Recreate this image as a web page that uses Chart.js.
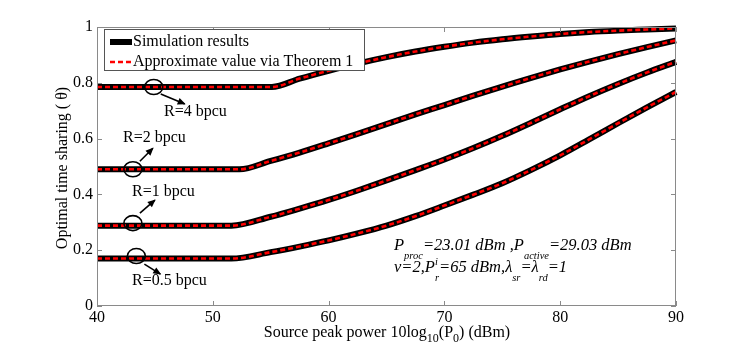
<!DOCTYPE html>
<html>
<head>
<meta charset="utf-8">
<script src="https://cdn.jsdelivr.net/npm/chart.js@4.4.1/dist/chart.umd.min.js"></script>
<style>
  html, body { margin: 0; padding: 0; background: #fff; }
  #wrap { width: 747px; height: 347px; position: relative; }
</style>
</head>
<body>
<div id="wrap"><canvas id="c" width="747" height="347"></canvas></div>
<script>
// ---- data ----
const xTicks = [40, 50, 60, 70, 80, 90];
const yTicks = [0, 0.2, 0.4, 0.6, 0.8, 1];

const power4 = [40, 55.1, 57.5, 60, 62.5, 65, 67.5, 70, 72.5, 75, 77.5, 80, 82.5, 85, 87.5, 90];
const theta4 = [0.785, 0.785, 0.815, 0.843, 0.869, 0.892, 0.912, 0.929, 0.944, 0.956, 0.966, 0.975, 0.982, 0.987, 0.991, 0.995];

const power2 = [40, 52.3, 55, 57.5, 60, 62.5, 65, 67.5, 70, 72.5, 75, 77.5, 80, 82.5, 85, 87.5, 90];
const theta2 = [0.49, 0.49, 0.52, 0.55, 0.583, 0.617, 0.652, 0.687, 0.72, 0.754, 0.786, 0.818, 0.848, 0.876, 0.903, 0.928, 0.952];

const power1 = [40, 51.6, 55, 57.5, 60, 62.5, 65, 67.5, 70, 72.5, 75, 77.5, 80, 82.5, 85, 87.5, 90];
const theta1 = [0.288, 0.288, 0.32, 0.349, 0.38, 0.414, 0.45, 0.487, 0.525, 0.566, 0.61, 0.657, 0.705, 0.752, 0.796, 0.837, 0.875];

const power05 = [40, 51.6, 55, 57.5, 60, 62.5, 65, 67.5, 70, 72.5, 75, 77.5, 80, 82.5, 85, 87.5, 90];
const theta05 = [0.17, 0.17, 0.193, 0.213, 0.235, 0.26, 0.288, 0.322, 0.36, 0.399, 0.44, 0.488, 0.54, 0.597, 0.655, 0.712, 0.767];

const seriesX = [power4, power2, power1, power05];
const seriesY = [theta4, theta2, theta1, theta05];

const legendLabels = ['Simulation results', 'Approximate value via Theorem 1'];
const rateLabels = ['R=4 bpcu', 'R=2 bpcu', 'R=1 bpcu', 'R=0.5 bpcu'];
// circle centres (data coords) for rate markers
const markX = [44.9, 43.1, 43.1, 43.4];
const markY = [0.785, 0.49, 0.297, 0.179];

const FONT = '"Liberation Serif", "DejaVu Serif", serif';

function pts(xs, ys) { return xs.map((x, i) => ({ x: x, y: ys[i] })); }

const datasets = [];
seriesX.forEach((xs, i) => {
  datasets.push({
    label: legendLabels[0] + ' ' + rateLabels[i],
    data: pts(xs, seriesY[i]),
    borderColor: '#000',
    borderWidth: 6,
    pointRadius: 0,
    cubicInterpolationMode: 'monotone',
    order: 2,
    clip: 6
  });
});
seriesX.forEach((xs, i) => {
  datasets.push({
    label: legendLabels[1] + ' ' + rateLabels[i],
    data: pts(xs, seriesY[i]),
    borderColor: '#ff0000',
    borderWidth: 2.6,
    borderDash: [5, 3],
    pointRadius: 0,
    cubicInterpolationMode: 'monotone',
    order: 1,
    clip: 6
  });
});

function drawRich(ctx, parts, x, y, size) {
  let cx = x;
  parts.forEach(p => {
    const fs = p.s ? 10.5 : size;
    ctx.font = 'italic ' + fs + 'px ' + FONT;
    let dy = 0;
    if (p.s === 'sub') dy = size * 0.55;
    if (p.s === 'sup') dy = -size * 0.42;
    ctx.fillText(p.t, cx, y + dy);
    const w = ctx.measureText(p.t).width;
    cx += (p.adv !== undefined) ? p.adv : w;
  });
}

function arrow(ctx, x1, y1, x2, y2) {
  ctx.beginPath();
  ctx.moveTo(x1, y1);
  ctx.lineTo(x2, y2);
  ctx.lineWidth = 1.6;
  ctx.strokeStyle = '#000';
  ctx.stroke();
  const a = Math.atan2(y2 - y1, x2 - x1);
  const L = 7, W = 3.5;
  ctx.beginPath();
  ctx.moveTo(x2 + Math.cos(a) * 1, y2 + Math.sin(a) * 1);
  ctx.lineTo(x2 - L * Math.cos(a) + W * Math.sin(a), y2 - L * Math.sin(a) - W * Math.cos(a));
  ctx.lineTo(x2 - L * Math.cos(a) - W * Math.sin(a), y2 - L * Math.sin(a) + W * Math.cos(a));
  ctx.closePath();
  ctx.fillStyle = '#000';
  ctx.fill();
}

const decor = {
  id: 'decor',
  afterDraw(chart) {
    const ctx = chart.ctx;
    const a = chart.chartArea;
    const xs = chart.scales.x, ys = chart.scales.y;
    ctx.save();
    // frame
    ctx.strokeStyle = '#8a8a8a';
    ctx.lineWidth = 1;
    ctx.strokeRect(a.left + 0.5, a.top + 0.5, a.right - a.left - 1, a.bottom - a.top - 1);
    // inward ticks
    ctx.beginPath();
    xTicks.forEach(v => {
      const px = Math.round(xs.getPixelForValue(v)) + 0.5;
      ctx.moveTo(px, a.bottom); ctx.lineTo(px, a.bottom - 5);
      ctx.moveTo(px, a.top); ctx.lineTo(px, a.top + 5);
    });
    yTicks.forEach(v => {
      const py = Math.round(ys.getPixelForValue(v)) + 0.5;
      ctx.moveTo(a.left, py); ctx.lineTo(a.left + 5, py);
      ctx.moveTo(a.right, py); ctx.lineTo(a.right - 5, py);
    });
    ctx.stroke();

    // legend
    const lx = 104, ly = 29, lw = 260, lh = 41;
    ctx.fillStyle = '#fff';
    ctx.fillRect(lx, ly, lw, lh);
    ctx.strokeStyle = '#555';
    ctx.strokeRect(lx + 0.5, ly + 0.5, lw, lh);
    ctx.lineWidth = 6;
    ctx.strokeStyle = '#000';
    ctx.beginPath(); ctx.moveTo(110, 42); ctx.lineTo(132, 42); ctx.stroke();
    ctx.lineWidth = 2.6;
    ctx.strokeStyle = '#ff0000';
    ctx.setLineDash([5, 3]);
    ctx.beginPath(); ctx.moveTo(110, 62); ctx.lineTo(132, 62); ctx.stroke();
    ctx.setLineDash([]);
    ctx.fillStyle = '#000';
    ctx.font = '16px ' + FONT;
    ctx.textBaseline = 'middle';
    ctx.textAlign = 'left';
    ctx.fillText(legendLabels[0], 133, 42);
    ctx.fillText(legendLabels[1], 133, 62);

    // rate markers
    const off = [
      { a: [7, 7, 31, 17], t: [164, 112] },
      { a: [7, -8, 20, -21], t: [123, 138] },
      { a: [7, -10, 22, -23], t: [132, 192] },
      { a: [8, 8, 24, 18], t: [132, 281] }
    ];
    rateLabels.forEach((lab, i) => {
      const cx = xs.getPixelForValue(markX[i]);
      const cy = ys.getPixelForValue(markY[i]);
      ctx.beginPath();
      ctx.ellipse(cx, cy, 9, 7.5, 0, 0, Math.PI * 2);
      ctx.lineWidth = 1.6;
      ctx.strokeStyle = '#000';
      ctx.stroke();
      const o = off[i];
      arrow(ctx, cx + o.a[0], cy + o.a[1], cx + o.a[2], cy + o.a[3]);
      ctx.fillStyle = '#000';
      ctx.font = '16px ' + FONT;
      ctx.textBaseline = 'middle';
      ctx.fillText(lab, o.t[0], o.t[1]);
    });

    // parameter text
    ctx.fillStyle = '#000';
    ctx.textBaseline = 'alphabetic';
    drawRich(ctx, [
      { t: 'P' }, { t: 'proc', s: 'sub' }, { t: '=23.01 dBm ,P' }, { t: 'active', s: 'sub' }, { t: '=29.03 dBm' }
    ], 394, 250, 16.5);
    drawRich(ctx, [
      { t: 'ν=2,P' }, { t: 'i', s: 'sup', adv: 0 }, { t: 'r', s: 'sub' }, { t: '=65 dBm,λ' }, { t: 'sr', s: 'sub' },
      { t: '=λ' }, { t: 'rd', s: 'sub' }, { t: '=1' }
    ], 394, 272, 16.5);

    // x-axis title with subscripts
    ctx.textAlign = 'left';
    const parts = [['Source peak power 10log', 0], ['10', 1], ['(P', 0], ['0', 1], [') (dBm)', 0]];
    let total = 0;
    parts.forEach(p => { ctx.font = (p[1] ? '12px ' : '16px ') + FONT; total += ctx.measureText(p[0]).width; });
    let cx = 387 - total / 2;
    parts.forEach(p => {
      ctx.font = (p[1] ? '12px ' : '16px ') + FONT;
      ctx.fillText(p[0], cx, p[1] ? 342 : 337);
      cx += ctx.measureText(p[0]).width;
    });

    // y-axis title
    ctx.save();
    ctx.translate(67, 168);
    ctx.rotate(-Math.PI / 2);
    ctx.font = '16px ' + FONT;
    ctx.textAlign = 'center';
    ctx.textBaseline = 'alphabetic';
    ctx.fillText('Optimal time sharing ( θ)', 0, 0);
    ctx.restore();

    ctx.restore();
  }
};

new Chart(document.getElementById('c'), {
  type: 'line',
  data: { datasets: datasets },
  options: {
    responsive: false,
    animation: false,
    layout: { padding: { top: 27, right: 71, left: 0, bottom: 0 } },
    plugins: { legend: { display: false }, tooltip: { enabled: false } },
    scales: {
      x: {
        type: 'linear', min: 40, max: 90,
        afterBuildTicks: s => { s.ticks = xTicks.map(v => ({ value: v })); },
        afterFit: s => { s.height = 41; },
        grid: { display: false, drawTicks: false },
        border: { display: false },
        ticks: { color: '#000', padding: 2, maxRotation: 0, font: { family: FONT, size: 16 } }
      },
      y: {
        type: 'linear', min: 0, max: 1,
        afterBuildTicks: s => { s.ticks = yTicks.map(v => ({ value: v })); },
        afterFit: s => { s.width = 97; },
        grid: { display: false, drawTicks: false },
        border: { display: false },
        ticks: {
          color: '#000', padding: 4, font: { family: FONT, size: 16 },
          callback: v => (v === 0 || v === 1) ? String(v) : v.toFixed(1)
        }
      }
    }
  },
  plugins: [decor]
});
</script>
</body>
</html>
